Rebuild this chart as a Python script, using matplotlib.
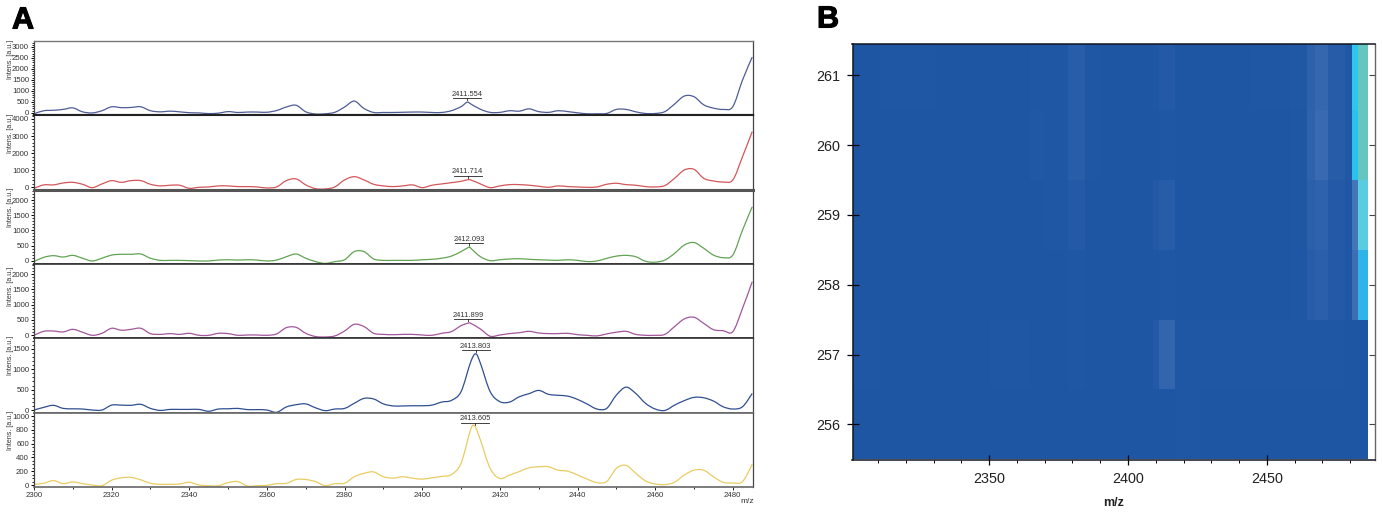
import matplotlib
matplotlib.use("Agg")
import matplotlib.pyplot as plt
import matplotlib.patheffects as pe
import numpy as np
from matplotlib.colors import LinearSegmentedColormap
from matplotlib.patches import PathPatch
from matplotlib.path import Path
from matplotlib.ticker import MultipleLocator

plt.rcParams["font.family"] = ["Liberation Sans", "DejaVu Sans"]

W, H = 1382, 514

mz = np.arange(2300, 2485.1, 2.5)

spec1 = [-50, 90, 110, 150, 220, 40, -10, 90, 270, 230, 240, 270, 90, 40, 70, 40, 0, -10, -40, -20,
         50, 10, 30, 30, 20, 100, 260, 340, 40, -60, -50, 20, 260, 530, 190, 10, 10, 10, 20, 30,
         30, 10, 10, 90, 275, 400, 155, 15, 15, 90, 70, 175, 50, 15, 90, 50, -5, -50, -50, -35,
         150, 150, 40, -35, -35, 50, 395, 760, 730, 360, 210, 150, 275, 1490, 2540]
spec2 = [-60, 140, 140, 250, 290, 175, -20, 195, 390, 290, 390, 390, 175, 80, 120, 120, -60, 0, 20, 80,
         80, 40, 40, 20, -40, 20, 390, 490, 140, -80, -100, 20, 430, 620, 430, 175, 80, 40, 80, 140,
         -20, 120, 195, 270, 350, 430, 195, -20, 80, 155, 155, 120, 60, 0, 80, 40, 20, 0, 20, 175,
         235, 155, 120, 40, 20, 100, 525, 1010, 1050, 525, 370, 310, 430, 1790, 3255]
spec3 = [-30, 110, 165, 120, 175, 80, -10, 80, 185, 210, 210, 220, 80, 10, 10, 10, 0, -10, -10, 20,
         30, 20, 30, 20, -10, 20, 130, 220, 80, -30, -90, -30, 30, 300, 300, 55, 10, 10, 10, 10,
         30, 45, 80, 150, 300, 410, 130, 0, 30, 55, 65, 45, 30, 20, 10, 30, 10, -30, -10, 75,
         150, 175, 130, -20, -50, 20, 240, 515, 600, 410, 185, 100, 185, 1010, 1780]
spec4 = [0, 130, 140, 110, 195, 100, 0, 65, 230, 165, 195, 230, 55, 30, 55, 30, 65, 0, 0, 65,
         55, 0, 10, 10, 0, 45, 250, 260, 65, -40, -55, -20, 140, 360, 285, 65, 30, 20, 30, 30,
         10, 0, 65, 120, 315, 390, 205, -30, 10, 55, 85, 130, 75, 55, 55, 65, 20, 0, -20, 45,
         100, 130, 30, 0, 0, 30, 285, 535, 590, 390, 185, 150, 120, 880, 1750]
spec5 = [0, 65, 115, 40, 30, 25, 0, 0, 120, 120, 115, 140, 40, -10, 15, 15, 15, 15, -30, 25,
         30, 40, 10, 10, 0, -55, 75, 130, 150, 55, -15, 25, 40, 165, 285, 270, 150, 100, 100, 105,
         105, 120, 195, 235, 450, 1180, 1140, 450, 205, 195, 325, 400, 480, 385, 360, 340, 260, 145, 25, 40,
         365, 560, 405, 165, 25, -10, 120, 230, 310, 300, 220, 80, 25, 80, 405]
spec6 = [10, 25, 65, 20, 45, 20, 0, -10, 70, 105, 110, 75, 25, 10, 10, 15, 40, 0, -10, -10,
         35, 50, -15, -10, -5, 20, 25, 80, 80, 50, -10, 20, 25, 120, 170, 190, 120, 100, 120, 100,
         85, 105, 125, 150, 315, 810, 650, 240, 95, 145, 195, 250, 265, 265, 215, 200, 145, 85, 35, 50,
         240, 285, 170, 60, 15, 5, 40, 145, 215, 215, 120, 40, 30, 50, 300]

spectra = [spec1, spec2, spec3, spec4, spec5, spec6]
peak_mz = [2411.554, 2411.714, 2412.093, 2411.899, 2413.803, 2413.605]
peak_int = [480, 440, 450, 400, 1375, 845]
peak_labels = ["2411.554", "2411.714", "2412.093", "2411.899", "2413.803", "2413.605"]
line_colors = ["#4f5d96", "#d2575a", "#62a453", "#a2569c", "#2f4f92", "#e9cc62"]

# panel limits and tick steps
y_limits = [(-105, 3250), (-130, 4230), (-120, 2350), (-98, 2320), (-80, 1755), (-33, 1040)]
y_major = [500, 1000, 500, 500, 500, 200]
y_minor = [100, 200, 100, 100, 100, 50]
sep_px = [41.5, 115, 189.5, 264.3, 338.3, 413.3, 487.3]
sep_col = ["#777777", "#222222", "#555555", "#333333", "#333333", "#666666", "#666666"]
sep_lw = [1.0, 1.5, 2.2, 1.2, 1.2, 1.2, 1.2]
ylabel_px = [59, 133, 207, 286, 355, 430]

# heatmap, one row per spectrum number, columns between mz_edges
mz_edges = [2300.8, 2310.6, 2330.4, 2350.2, 2364.6, 2370.0, 2378.3, 2384.4, 2389.8, 2408.9, 2411.1,
            2416.8, 2425.9, 2443.8, 2458.3, 2464.4, 2467.3, 2472.0, 2478.0, 2480.6, 2482.7, 2486.5]
spots = [256, 257, 258, 259, 260, 261]
row256 = [0, 0, 0, 0, 0, 0, 0, 0, 0, 0, 0, .01, 0, 0, 0, 0, 0, 0, 0, 0, 0]
row257 = [.01, 0, 0, .01, 0, 0, .015, 0, 0, .03, .12, .01, .01, .01, .01, .01, .01, .01, 0, 0, 0]
row258 = [0, 0, 0, 0, 0, 0, .01, 0, 0, 0, .01, 0, 0, 0, .01, .05, .08, .03, .01, .17, .5]
row259 = [0, 0, 0, 0, 0, .01, .03, 0, 0, .03, .05, 0, 0, 0, .01, .08, .1, .03, .01, .22, .78]
row260 = [0, 0, 0, 0, .02, .01, .06, .01, 0, 0, .01, 0, 0, 0, .01, .1, .15, .05, .02, .58, 1]
row261 = [0, .01, 0, 0, .01, .01, .06, .01, 0, .01, .03, 0, 0, .01, .02, .09, .13, .05, .02, .62, 1]
heat = np.array([row256, row257, row258, row259, row260, row261])

heat_cmap = LinearSegmentedColormap.from_list(
    "msi",
    [(0, "#1e56a4"), (.1, "#2f62ac"), (.2, "#4372b6"), (.5, "#2fb4ea"),
     (.6, "#28c5ee"), (.78, "#5accE0"), (1, "#65c6c0")],
)


def axes_px(left, top, right, bottom):
    return fig.add_axes([left / W, 1 - bottom / H, (right - left) / W, (bottom - top) / H])


def smooth_path(x, y):
    # bezier through the read points, so the trace doesn't look like a polygon
    pts = np.column_stack([x, y])
    before = np.vstack([pts[0], pts[:-1]])
    after = np.vstack([pts[1:], pts[-1]])
    slope = (after - before) / 6
    verts = [pts[0]]
    codes = [Path.MOVETO]
    for j in range(len(pts) - 1):
        verts += [pts[j] + slope[j], pts[j + 1] - slope[j + 1], pts[j + 1]]
        codes += [Path.CURVE4] * 3
    return Path(verts, codes)


fig = plt.figure(figsize=(W / 100, H / 100), dpi=100)

# panel A
for i in range(6):
    ax = axes_px(34, sep_px[i], 753, sep_px[i + 1])
    x = np.append(mz, peak_mz[i])
    y = np.append(spectra[i], peak_int[i])
    order = np.argsort(x)
    ax.add_patch(PathPatch(smooth_path(x[order], y[order]), fill=False, edgecolor=line_colors[i], lw=0.9))
    ax.set_xlim(2300, 2485.2)
    ax.set_ylim(*y_limits[i])
    ax.yaxis.set_major_locator(MultipleLocator(y_major[i]))
    ax.yaxis.set_minor_locator(MultipleLocator(y_minor[i]))
    ax.tick_params(axis="y", which="major", labelsize=5.6, length=2.4, width=0.7, pad=1.2, labelcolor="#333333")
    ax.tick_params(axis="y", which="minor", length=1.6, width=0.6)
    ax.spines["top"].set(color=sep_col[i], lw=sep_lw[i])
    ax.spines["bottom"].set(color=sep_col[i + 1], lw=sep_lw[i + 1])
    ax.spines["left"].set(color="#444444", lw=0.9)
    ax.spines["right"].set(color="#444444", lw=0.9)

    # peak label with its rule and small tick
    per_px = (y_limits[i][1] - y_limits[i][0]) / (sep_px[i + 1] - sep_px[i])
    rule = peak_int[i] + 4 * per_px
    ax.plot([peak_mz[i] - 3.6, peak_mz[i] + 3.6], [rule, rule], color="#222222", lw=0.6)
    ax.plot([peak_mz[i], peak_mz[i]], [rule, rule - 2 * per_px], color="#222222", lw=0.6)
    ax.text(peak_mz[i], rule + 0.3 * per_px, peak_labels[i], ha="center", va="bottom",
            fontsize=5.4, color="#333333")

    fig.text(11 / W, 1 - ylabel_px[i] / H, "Intens. [a.u.]", rotation=90, ha="center", va="center",
             fontsize=5.0, color="#333333")

    if i == 5:
        ax.xaxis.set_major_locator(MultipleLocator(20))
        ax.xaxis.set_minor_locator(MultipleLocator(10))
        ax.tick_params(axis="x", which="major", labelsize=5.6, length=2.2, width=0.6, pad=1.5, labelcolor="#333333")
        ax.tick_params(axis="x", which="minor", length=1.5, width=0.6)
    else:
        ax.set_xticks([])

fig.text(747.5 / W, 1 - 501.5 / H, "m/z", ha="center", va="center", fontsize=6, color="#333333")

# panel B
ax = axes_px(852.5, 43.8, 1375, 460)
row_edges = np.append(np.array(spots) - 0.5, spots[-1] + 0.5)
ax.pcolormesh(mz_edges, row_edges, heat, cmap=heat_cmap, vmin=0, vmax=1, rasterized=True)
ax.set_xlim(2300.8, 2488.9)
ax.set_ylim(255.49, 261.45)
ax.set_xticks([2350, 2400, 2450])
ax.xaxis.set_minor_locator(MultipleLocator(10))
ax.set_yticks(spots)
ax.tick_params(axis="x", which="major", direction="inout", length=6.5, width=0.9, labelsize=10.4,
               pad=5.5, labelcolor="#222222")
ax.tick_params(axis="x", which="minor", direction="out", length=2, width=0.7)
ax.tick_params(axis="y", which="major", direction="inout", length=8, width=0.9, labelsize=10.4,
               pad=5, labelcolor="#222222")
ax.set_xlabel("m/z", fontsize=9, fontweight="bold", labelpad=8, color="#222222")
for side in ["top", "left", "bottom"]:
    ax.spines[side].set(color="#10151f", lw=1.1)
ax.spines["right"].set(color="#666666", lw=1.0)

top_ticks = ax.secondary_xaxis("top")
top_ticks.set_xticks([2350, 2400, 2450])
top_ticks.tick_params(direction="in", length=3.5, width=0.8, labeltop=False, color="#223366")
top_ticks.spines["top"].set_visible(False)
right_ticks = ax.secondary_yaxis("right")
right_ticks.set_yticks(spots)
right_ticks.tick_params(direction="in", length=4, width=0.8, labelright=False, color="#444444")
right_ticks.spines["right"].set_visible(False)

heavy = [pe.withStroke(linewidth=0.8, foreground="black")]
fig.text(23 / W, 1 - 20.5 / H, "A", ha="center", va="center", fontsize=22, fontweight="bold",
         color="black", path_effects=heavy)
fig.text(828 / W, 1 - 19.5 / H, "B", ha="center", va="center", fontsize=22, fontweight="bold",
         color="black", path_effects=heavy)

fig.savefig("out.png", dpi=100)
